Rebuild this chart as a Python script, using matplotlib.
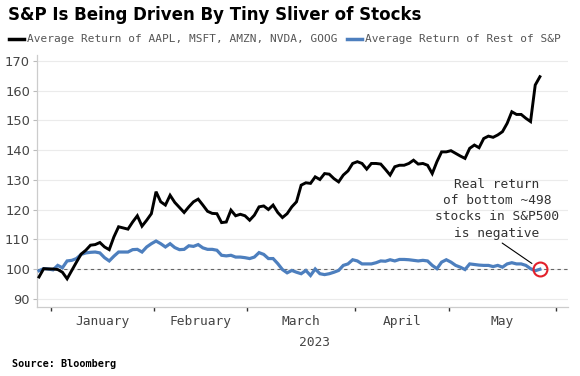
import numpy as np
import pandas as pd
import matplotlib
matplotlib.use("Agg")
import matplotlib.pyplot as plt
from matplotlib.lines import Line2D

# ---------------- data ----------------
start_date = "2022-12-28"
series_names = ["Average Return of AAPL, MSFT, AMZN, NVDA, GOOG",
                "Average Return of Rest of S&P"]

mega_cap = [97.3, 100.1, 100.0, 100.0, 99.8, 98.9, 96.7, 99.5, 102.3, 105.0,
            106.3, 108.0, 108.2, 108.9, 107.4, 106.5, 110.8, 114.2, 113.8, 113.4,
            115.8, 117.9, 114.4, 116.4, 118.6, 126.0, 122.6, 121.5, 124.8, 122.4,
            120.7, 119.0, 120.9, 122.6, 123.5, 121.5, 119.4, 118.7, 118.6, 115.6,
            115.8, 119.8, 117.9, 118.4, 117.9, 116.4, 118.1, 120.9, 121.2, 120.0,
            121.5, 119.0, 117.3, 118.6, 120.9,
            122.6, 128.2, 129.0, 128.8, 131.0, 130.1, 132.1, 131.9, 130.4, 129.3,
            131.6, 133.0, 135.5, 136.1, 135.5, 133.6, 135.5, 135.5, 135.3, 133.5,
            131.6, 134.4, 134.9, 134.9, 135.5, 136.6, 135.3, 135.5, 134.9, 132.1,
            136.1, 139.4, 139.4, 139.8, 138.9, 138.0, 137.2, 140.6, 141.7, 140.8,
            143.9, 144.7, 144.3, 145.1, 146.2, 149.0, 152.9, 152.0, 152.0, 150.7,
            149.6, 161.9, 164.7]

rest_sp = [99.4, 100.1, 100.0, 99.7, 101.2, 100.4, 102.7, 102.9, 103.5, 104.9,
           105.4, 105.6, 105.7, 105.4, 103.8, 102.7, 104.3, 105.7, 105.7, 105.7,
           106.5, 106.6, 105.7, 107.4, 108.5, 109.4, 108.5, 107.4, 108.5, 107.2,
           106.5, 106.6, 107.8, 107.6, 108.2, 107.1, 106.6, 106.6, 106.3, 104.6,
           104.4, 104.6, 104.0, 104.0, 103.8, 103.5, 104.0, 105.5, 104.9, 103.5,
           103.5, 101.8, 99.8, 98.7, 99.5,
           98.9, 98.4, 99.5, 97.8, 100.0, 98.4, 98.1, 98.4, 98.9, 99.5,
           101.2, 101.7, 103.1, 102.7, 101.7, 101.7, 101.7, 102.1, 102.7, 102.6,
           103.1, 102.7, 103.2, 103.2, 103.1, 102.9, 102.7, 102.9, 102.7, 101.2,
           100.1, 102.3, 103.1, 102.3, 101.2, 100.6, 99.8, 101.7, 101.5, 101.3,
           101.2, 101.2, 100.8, 101.2, 100.6, 101.7, 102.1, 101.7, 101.7, 101.2,
           100.1, 99.4, 99.9]

month_labels = ["January", "February", "March", "April", "May"]
year_label = "2023"
yticks = [90, 100, 110, 120, 130, 140, 150, 160, 170]
baseline = 100
title = "S&P Is Being Driven By Tiny Sliver of Stocks"
note = "Real return\nof bottom ~498\nstocks in S&P500\nis negative"
source = "Source: Bloomberg"

# ---------------- layout ----------------
W, H = 580, 376
BLACK = "#000000"
BLUE = "#4d7fbe"
RED = "#e3202a"
MONO = "DejaVu Sans Mono"

dates = pd.bdate_range(start_date, periods=len(mega_cap))
idx = np.arange(len(dates))
calendar = pd.bdate_range(start_date, "2023-06-30")

fig = plt.figure(figsize=(W / 100, H / 100), dpi=100)
ax = fig.add_axes([37 / W, 1 - 307 / H, (568 - 37) / W, (307 - 55) / H])

for y in yticks:
    ax.axhline(y, color="#ebebeb", lw=0.8, zorder=0)
ax.axhline(baseline, color="#666666", lw=0.8, ls=(0, (3, 3)), zorder=1)

ax.plot(idx, rest_sp, color=BLUE, lw=2.3, zorder=3, solid_joinstyle="miter")
ax.plot(idx, mega_cap, color=BLACK, lw=2.1, zorder=4, solid_joinstyle="miter")

ax.plot([idx[-1]], [baseline], marker="o", ms=10, mfc="none", mec=RED, mew=1.5,
        zorder=5)
ax.annotate(note, xy=(idx[-1], baseline), xycoords="data",
            xytext=(497 / W, 1 - 209 / H), textcoords="figure fraction",
            ha="center", va="center", multialignment="center",
            family=MONO, fontsize=9.3, color="#333333", linespacing=1.3,
            arrowprops=dict(arrowstyle="-", color="black", lw=0.8,
                            shrinkA=1, shrinkB=7, relpos=(0.5, 0)))

ax.set_ylim(87.2, 172)
ax.set_xlim(-0.43, 113.0)

# month ticks: boundaries between months, labels centred within each month
months = calendar.to_period("M")
shown = [m for m in months.unique() if m.year == 2023]
first_idx = [int(np.where(months == m)[0][0]) for m in shown]
bounds = [i - 0.5 for i in first_idx]
centers = [(a + b) / 2 for a, b in zip(bounds[:-1], bounds[1:])]
ax.set_xticks(bounds[:len(month_labels) + 1])
ax.set_xticklabels([])
ax.set_xticks(centers[:len(month_labels)], minor=True)
ax.set_xticklabels(month_labels, minor=True, family=MONO, fontsize=9.3,
                   color="#444444")
ax.tick_params(axis="x", which="major", length=3, width=1, color="#333333",
               direction="out")
ax.tick_params(axis="x", which="minor", length=0, pad=6)
fig.text(314 / W, 1 - 342 / H, year_label, ha="center", va="center",
         family=MONO, fontsize=9.3, color="#444444")

ax.set_yticks(yticks)
ax.set_yticklabels([str(v) for v in yticks], family="DejaVu Sans",
                   fontsize=9.4, color="#444444")
ax.tick_params(axis="y", length=3, width=0.8, color="#bbbbbb", pad=2)

for s in ["top", "right"]:
    ax.spines[s].set_visible(False)
for s in ["left", "bottom"]:
    ax.spines[s].set_color("#cccccc")
    ax.spines[s].set_linewidth(0.9)

# title, legend, source
fig.text(7.5 / W, 1 - 14.5 / H, title, ha="left", va="center",
         fontsize=12, fontweight="bold", family="DejaVu Sans")

ly = 1 - 38.6 / H
fig.add_artist(Line2D([9.4 / W, 24.4 / W], [ly, ly], color=BLACK, lw=2.5,
                      transform=fig.transFigure))
fig.text(27 / W, ly, series_names[0], ha="left", va="center", family=MONO,
         fontsize=8.05, color="#555555")
fig.add_artist(Line2D([346.6 / W, 361.6 / W], [ly, ly], color=BLUE, lw=2.5,
                      transform=fig.transFigure))
fig.text(365 / W, ly, series_names[1], ha="left", va="center", family=MONO,
         fontsize=8.05, color="#555555")

fig.text(11.7 / W, 1 - 364 / H, source, ha="left", va="center", family=MONO,
         fontsize=7.3, fontweight="bold", color="black")

fig.savefig("out.png", dpi=100)
